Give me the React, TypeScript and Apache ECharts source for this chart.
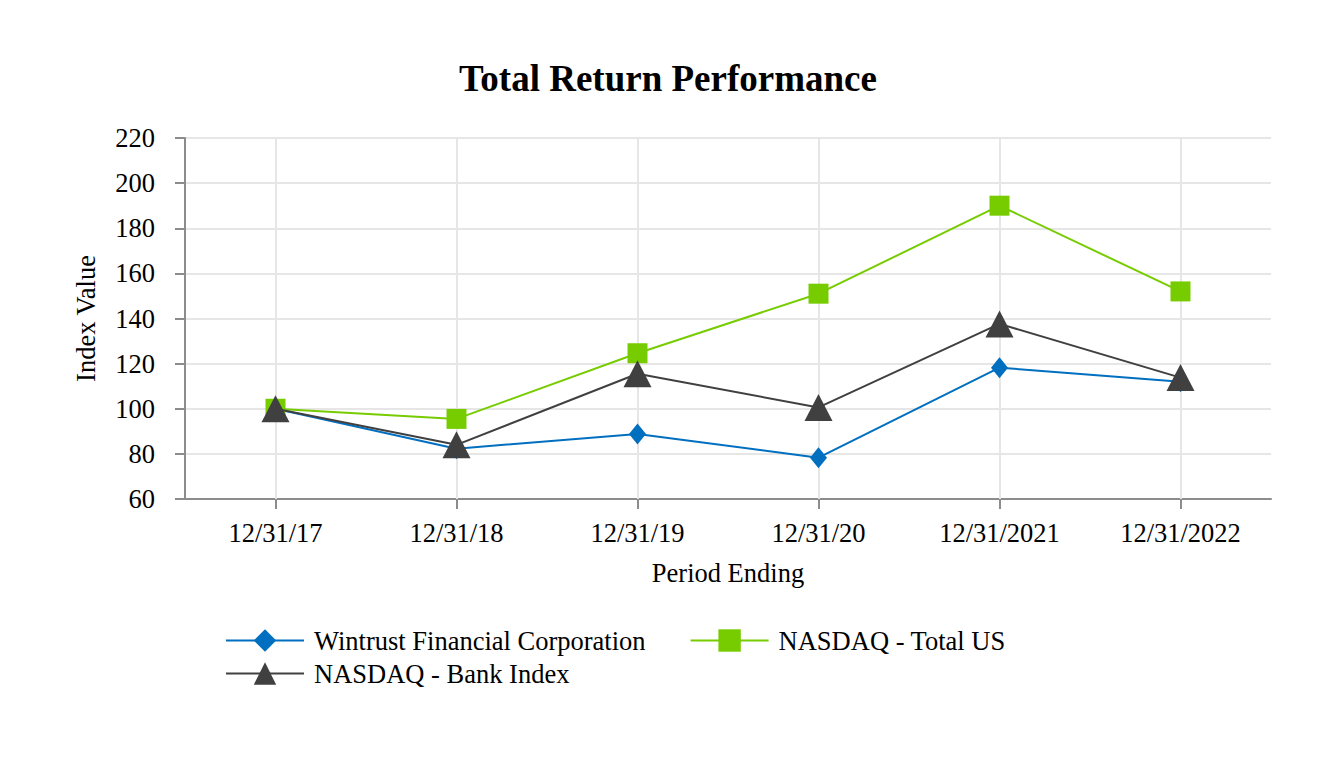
import React, { useEffect, useRef } from "react";
import * as echarts from "echarts";

const categories = ["12/31/17", "12/31/18", "12/31/19", "12/31/20", "12/31/2021", "12/31/2022"];
const wintrust = [100, 82.3, 88.8, 78.3, 118.2, 112.0];
const nasdaqTotal = [100, 95.5, 124.6, 151.0, 190.0, 152.0];
const nasdaqBank = [100, 84.0, 115.5, 100.6, 137.6, 113.8];
const yTicks = { min: 60, max: 220, interval: 20 };

const FONT = "'Liberation Serif', 'Times New Roman', serif";

export default function App() {
  const ref = useRef<HTMLDivElement>(null);
  useEffect(() => {
    if (!ref.current) return;
    const chart = echarts.init(ref.current, undefined, { renderer: "svg" });
    const textStyle = { fontFamily: FONT, fontSize: 26.5, color: "#000" };
    const legendText = { ...textStyle, padding: [0, 0, 0, 5] };
    chart.setOption({
      animation: false,
      backgroundColor: "#fff",
      textStyle: { fontFamily: FONT },
      title: {
        text: "Total Return Performance",
        left: "center",
        top: 55,
        textStyle: { fontFamily: FONT, fontSize: 37, fontWeight: "bold", color: "#000" },
      },
      grid: { left: 185, right: 65, top: 138, bottom: 263, containLabel: false },
      legend: [
        {
          data: ["Wintrust Financial Corporation", "NASDAQ - Total US"],
          left: 225,
          top: 627,
          padding: 0,
          orient: "horizontal",
          itemWidth: 78,
          itemHeight: 28,
          itemGap: 44,
          textStyle: legendText,
        },
        {
          data: ["NASDAQ - Bank Index"],
          left: 225,
          top: 660,
          padding: 0,
          itemWidth: 78,
          itemHeight: 28,
          textStyle: legendText,
        },
      ],
      xAxis: {
        type: "category",
        data: categories,
        boundaryGap: true,
        name: "Period Ending",
        nameLocation: "middle",
        nameGap: 60,
        nameTextStyle: textStyle,
        axisLine: { lineStyle: { color: "#8c8c8c", width: 2 } },
        axisTick: { show: true, alignWithLabel: true, length: 10, lineStyle: { color: "#8c8c8c", width: 2 } },
        axisLabel: { ...textStyle, margin: 20 },
        splitLine: { show: false },
      },
      yAxis: {
        type: "value",
        min: yTicks.min,
        max: yTicks.max,
        interval: yTicks.interval,
        name: "Index Value",
        nameLocation: "middle",
        nameGap: 86,
        nameTextStyle: textStyle,
        axisLine: { show: true, lineStyle: { color: "#8c8c8c", width: 2 } },
        axisTick: { show: true, length: 10, lineStyle: { color: "#8c8c8c", width: 2 } },
        axisLabel: { ...textStyle, margin: 30 },
        splitLine: { show: true, lineStyle: { color: "#e6e6e6", width: 2 } },
      },
      series: [
        {
          name: "Wintrust Financial Corporation",
          type: "line",
          data: wintrust,
          symbol: "diamond",
          symbolSize: [17, 21],
          color: "#006fc0",
          lineStyle: { color: "#006fc0", width: 2 },
          itemStyle: { color: "#006fc0" },
          z: 3,
          markLine: {
            silent: true,
            symbol: "none",
            z: 1,
            label: { show: false },
            lineStyle: { color: "#e6e6e6", width: 2, type: "solid" },
            data: categories.map((c) => ({ xAxis: c })),
          },
        },
        {
          name: "NASDAQ - Total US",
          type: "line",
          data: nasdaqTotal,
          symbol: "rect",
          symbolSize: 20,
          color: "#77cc00",
          lineStyle: { color: "#77cc00", width: 2 },
          itemStyle: { color: "#77cc00" },
          z: 4,
        },
        {
          name: "NASDAQ - Bank Index",
          type: "line",
          data: nasdaqBank,
          symbol: "triangle",
          symbolSize: [28, 27],
          color: "#404040",
          lineStyle: { color: "#404040", width: 2 },
          itemStyle: { color: "#404040" },
          z: 5,
        },
      ],
    });
    return () => chart.dispose();
  }, []);
  return <div ref={ref} style={{ width: 1336, height: 762, margin: -8 }} />;
}
